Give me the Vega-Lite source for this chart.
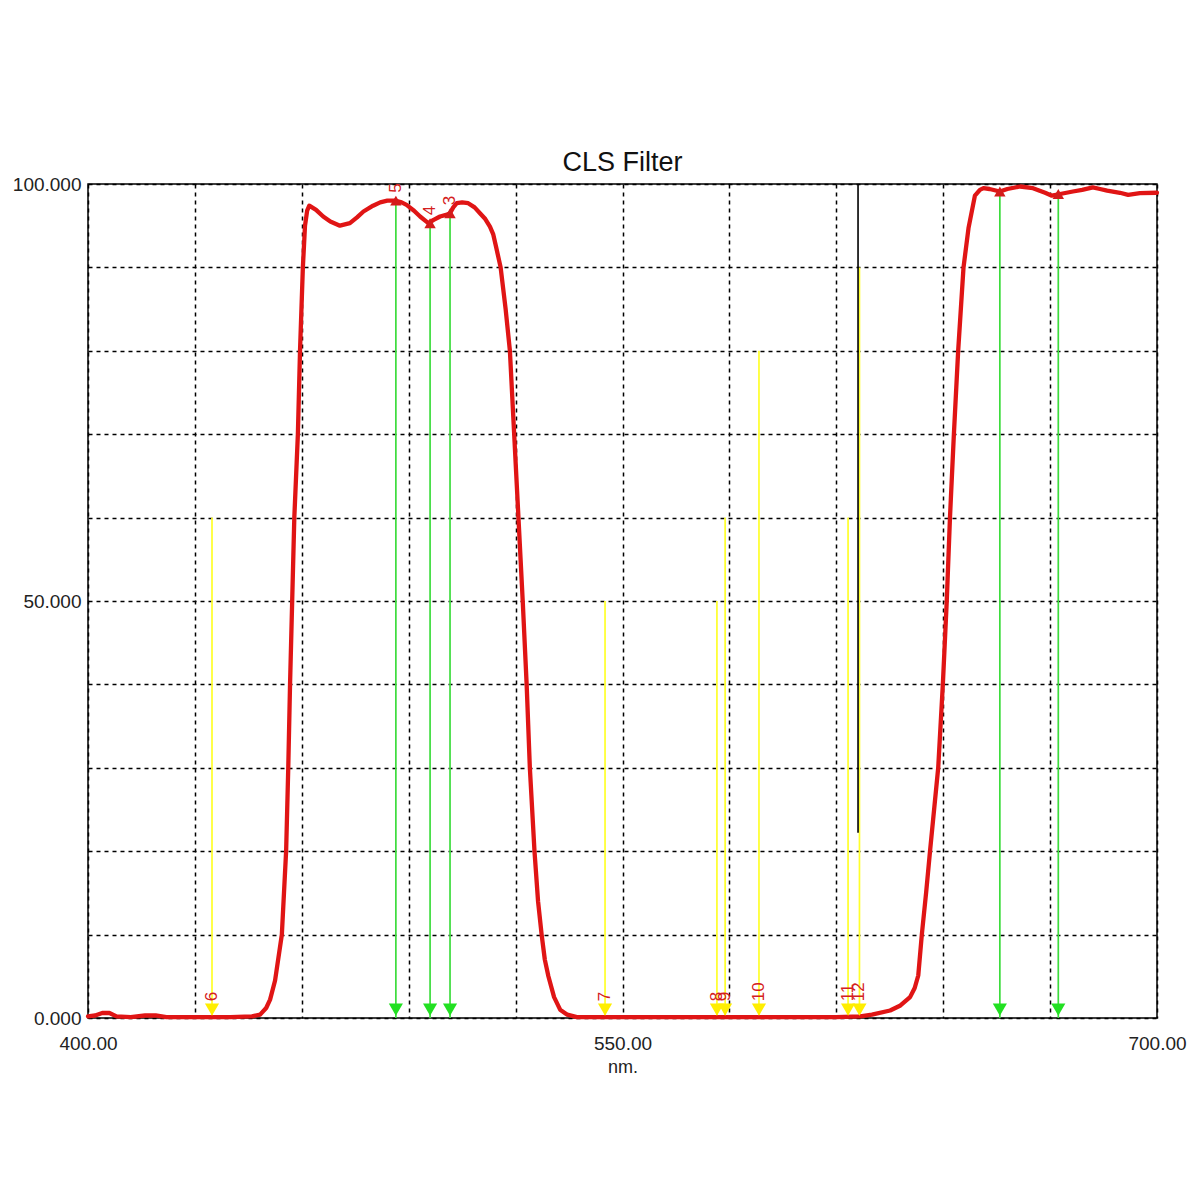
{
  "$schema": "https://vega.github.io/schema/vega-lite/v6.json",
  "width": 1069,
  "height": 834,
  "autosize": {"type": "none"},
  "padding": {"left": 88, "top": 184, "right": 43, "bottom": 182},
  "background": "#ffffff",
  "config": {
    "font": "Liberation Sans",
    "view": {"stroke": "#000000", "strokeWidth": 1.5},
    "axis": {
      "domain": false,
      "ticks": false,
      "grid": true,
      "gridColor": "#000000",
      "gridDash": [4, 4],
      "gridWidth": 1.5,
      "gridOpacity": 1,
      "labelFont": "Liberation Sans",
      "labelFontSize": 19,
      "labelColor": "#222222",
      "labelFlush": false,
      "titleFont": "Liberation Sans",
      "titleFontSize": 18,
      "titleFontWeight": "normal",
      "titleColor": "#222222"
    }
  },
  "title": {
    "text": "CLS Filter",
    "fontSize": 27,
    "fontWeight": "normal",
    "font": "Liberation Sans",
    "color": "#111111",
    "anchor": "middle",
    "offset": -2
  },
  "datasets": {
    "curve": [
      {"nm": 400, "T": 0.2}, {"nm": 402, "T": 0.3}, {"nm": 404, "T": 0.6}, {"nm": 406, "T": 0.6},
      {"nm": 408, "T": 0.2}, {"nm": 412, "T": 0.1}, {"nm": 416, "T": 0.3}, {"nm": 419, "T": 0.3},
      {"nm": 422, "T": 0.1}, {"nm": 430, "T": 0.1}, {"nm": 440, "T": 0.1}, {"nm": 446, "T": 0.2},
      {"nm": 448.3, "T": 0.4}, {"nm": 450, "T": 1.2}, {"nm": 451.1, "T": 2.2}, {"nm": 452.5, "T": 4.5},
      {"nm": 454.4, "T": 10}, {"nm": 455.6, "T": 20}, {"nm": 456.2, "T": 30}, {"nm": 456.7, "T": 40},
      {"nm": 457.3, "T": 50}, {"nm": 457.9, "T": 60}, {"nm": 458.9, "T": 70}, {"nm": 459.5, "T": 80},
      {"nm": 460.3, "T": 90}, {"nm": 460.9, "T": 95}, {"nm": 461.5, "T": 96.8}, {"nm": 462.1, "T": 97.4},
      {"nm": 464, "T": 96.9}, {"nm": 466, "T": 96.1}, {"nm": 468, "T": 95.5}, {"nm": 470.7, "T": 95.0},
      {"nm": 473.5, "T": 95.3}, {"nm": 475.5, "T": 96.0}, {"nm": 477.3, "T": 96.7}, {"nm": 480, "T": 97.4},
      {"nm": 482, "T": 97.8}, {"nm": 484, "T": 98.0}, {"nm": 486.2, "T": 98.0}, {"nm": 488, "T": 97.8},
      {"nm": 489.4, "T": 97.5}, {"nm": 491.5, "T": 96.8}, {"nm": 493.2, "T": 96.1}, {"nm": 495.5, "T": 95.3},
      {"nm": 497, "T": 95.7}, {"nm": 498.8, "T": 96.1}, {"nm": 500.5, "T": 96.3}, {"nm": 501.6, "T": 96.5},
      {"nm": 502.5, "T": 97.2}, {"nm": 503.5, "T": 97.7}, {"nm": 505, "T": 97.8}, {"nm": 506.7, "T": 97.7},
      {"nm": 508.5, "T": 97.2}, {"nm": 510, "T": 96.5}, {"nm": 511.5, "T": 95.8}, {"nm": 512.8, "T": 94.9},
      {"nm": 513.7, "T": 94.0}, {"nm": 514.5, "T": 92.5}, {"nm": 515.8, "T": 90}, {"nm": 517.2, "T": 85},
      {"nm": 518.4, "T": 80}, {"nm": 519.6, "T": 70}, {"nm": 520.8, "T": 60}, {"nm": 522.0, "T": 50},
      {"nm": 523.1, "T": 40}, {"nm": 524.0, "T": 30}, {"nm": 525.3, "T": 20}, {"nm": 526.3, "T": 14},
      {"nm": 527.3, "T": 10}, {"nm": 528.2, "T": 7}, {"nm": 529.2, "T": 5}, {"nm": 530.8, "T": 2.5},
      {"nm": 532.5, "T": 1}, {"nm": 534.5, "T": 0.4}, {"nm": 537.2, "T": 0.1}, {"nm": 550, "T": 0.1},
      {"nm": 570, "T": 0.1}, {"nm": 590, "T": 0.1}, {"nm": 610, "T": 0.1}, {"nm": 616.7, "T": 0.2},
      {"nm": 620, "T": 0.4}, {"nm": 625.1, "T": 0.9}, {"nm": 628, "T": 1.5}, {"nm": 630.7, "T": 2.5},
      {"nm": 632, "T": 3.6}, {"nm": 633.0, "T": 5.1}, {"nm": 634.0, "T": 10}, {"nm": 635.2, "T": 15},
      {"nm": 636.3, "T": 20}, {"nm": 638.6, "T": 30}, {"nm": 639.9, "T": 40}, {"nm": 641.0, "T": 50},
      {"nm": 641.9, "T": 60}, {"nm": 643.0, "T": 70}, {"nm": 644.2, "T": 80}, {"nm": 645.7, "T": 90},
      {"nm": 647.1, "T": 94.7}, {"nm": 648.9, "T": 98.6}, {"nm": 650.3, "T": 99.3}, {"nm": 651.3, "T": 99.5},
      {"nm": 653, "T": 99.4}, {"nm": 655.9, "T": 99.1}, {"nm": 658, "T": 99.4}, {"nm": 661.6, "T": 99.7},
      {"nm": 665.2, "T": 99.5}, {"nm": 668.6, "T": 98.95}, {"nm": 670.5, "T": 98.6}, {"nm": 672.8, "T": 98.8},
      {"nm": 676.4, "T": 99.1}, {"nm": 679, "T": 99.3}, {"nm": 682.0, "T": 99.6}, {"nm": 684, "T": 99.4},
      {"nm": 686.0, "T": 99.2}, {"nm": 689.6, "T": 98.95}, {"nm": 691.9, "T": 98.7}, {"nm": 695.2, "T": 98.9},
      {"nm": 700, "T": 98.95}
    ],
    "markers": [
      {"nm": 486.4, "top": 98.0, "kind": "green", "label": "5"},
      {"nm": 496.0, "top": 95.3, "kind": "green", "label": "4"},
      {"nm": 501.6, "top": 96.5, "kind": "green", "label": "3"},
      {"nm": 655.9, "top": 99.1, "kind": "green", "label": ""},
      {"nm": 672.3, "top": 98.8, "kind": "green", "label": ""},
      {"nm": 434.8, "top": 60, "kind": "yellow", "label": "6"},
      {"nm": 545.1, "top": 50, "kind": "yellow", "label": "7"},
      {"nm": 576.5, "top": 50, "kind": "yellow", "label": "8"},
      {"nm": 578.8, "top": 60, "kind": "yellow", "label": "9"},
      {"nm": 588.3, "top": 80, "kind": "yellow", "label": "10"},
      {"nm": 613.3, "top": 60, "kind": "yellow", "label": "11"},
      {"nm": 616.5, "top": 90, "kind": "yellow", "label": "12"}
    ],
    "black": [
      {"nm": 616.1, "from": 22.2, "to": 100}
    ]
  },
  "encoding": {
    "x": {
      "type": "quantitative",
      "scale": {"domain": [400, 700], "nice": false, "zero": false},
      "axis": {
        "values": [400, 430, 460, 490, 520, 550, 580, 610, 640, 670, 700],
        "labelExpr": "datum.value % 150 == 100 ? format(datum.value, '.2f') : ''",
        "labelPadding": 16,
        "labelOverlap": false,
        "title": "nm.",
        "titlePadding": 5
      }
    },
    "y": {
      "type": "quantitative",
      "scale": {"domain": [0, 100], "nice": false, "zero": false},
      "axis": {
        "values": [0, 10, 20, 30, 40, 50, 60, 70, 80, 90, 100],
        "labelExpr": "datum.value % 50 == 0 ? format(datum.value, '.3f') : ''",
        "labelPadding": 7,
        "labelOverlap": false,
        "title": null
      }
    }
  },
  "layer": [
    {
      "data": {"name": "markers"},
      "transform": [{"filter": "datum.kind == 'green'"}],
      "mark": {"type": "rule", "color": "#3ddc3d", "strokeWidth": 1.7},
      "encoding": {
        "x": {"field": "nm", "type": "quantitative"},
        "y": {"field": "top", "type": "quantitative"},
        "y2": {"datum": 0}
      }
    },
    {
      "data": {"name": "markers"},
      "transform": [{"filter": "datum.kind == 'yellow'"}],
      "mark": {"type": "rule", "color": "#ffff2a", "strokeWidth": 1.7},
      "encoding": {
        "x": {"field": "nm", "type": "quantitative"},
        "y": {"field": "top", "type": "quantitative"},
        "y2": {"datum": 0}
      }
    },
    {
      "data": {"name": "black"},
      "mark": {"type": "rule", "color": "#000000", "strokeWidth": 1.6},
      "encoding": {
        "x": {"field": "nm", "type": "quantitative"},
        "y": {"field": "to", "type": "quantitative"},
        "y2": {"field": "from"}
      }
    },
    {
      "data": {"name": "curve"},
      "mark": {"type": "line", "color": "#e01515", "strokeWidth": 4.3, "strokeJoin": "round", "strokeCap": "round"},
      "encoding": {
        "x": {"field": "nm", "type": "quantitative"},
        "y": {"field": "T", "type": "quantitative"}
      }
    },
    {
      "data": {"name": "markers"},
      "transform": [{"filter": "datum.kind == 'green'"}],
      "mark": {"type": "point", "shape": "triangle-down", "filled": true, "color": "#22e022", "opacity": 1, "size": 200},
      "encoding": {
        "x": {"field": "nm", "type": "quantitative"},
        "y": {"datum": 1}
      }
    },
    {
      "data": {"name": "markers"},
      "transform": [{"filter": "datum.kind == 'yellow'"}],
      "mark": {"type": "point", "shape": "triangle-down", "filled": true, "color": "#ffee00", "opacity": 1, "size": 200},
      "encoding": {
        "x": {"field": "nm", "type": "quantitative"},
        "y": {"datum": 1}
      }
    },
    {
      "data": {"name": "markers"},
      "transform": [{"filter": "datum.kind == 'green'"}],
      "mark": {"type": "point", "shape": "triangle-up", "filled": true, "color": "#d41c1c", "opacity": 1, "size": 130},
      "encoding": {
        "x": {"field": "nm", "type": "quantitative"},
        "y": {"field": "top", "type": "quantitative"}
      }
    },
    {
      "data": {"name": "markers"},
      "transform": [{"filter": "datum.kind == 'green'"}],
      "mark": {"type": "text", "angle": 270, "align": "left", "baseline": "middle", "color": "#d42020", "fontSize": 17, "yOffset": -8},
      "encoding": {
        "x": {"field": "nm", "type": "quantitative"},
        "y": {"field": "top", "type": "quantitative"},
        "text": {"field": "label"}
      }
    },
    {
      "data": {"name": "markers"},
      "transform": [{"filter": "datum.kind == 'yellow'"}],
      "mark": {"type": "text", "angle": 270, "align": "left", "baseline": "middle", "color": "#d42020", "fontSize": 17},
      "encoding": {
        "x": {"field": "nm", "type": "quantitative"},
        "y": {"datum": 2},
        "text": {"field": "label"}
      }
    }
  ]
}
